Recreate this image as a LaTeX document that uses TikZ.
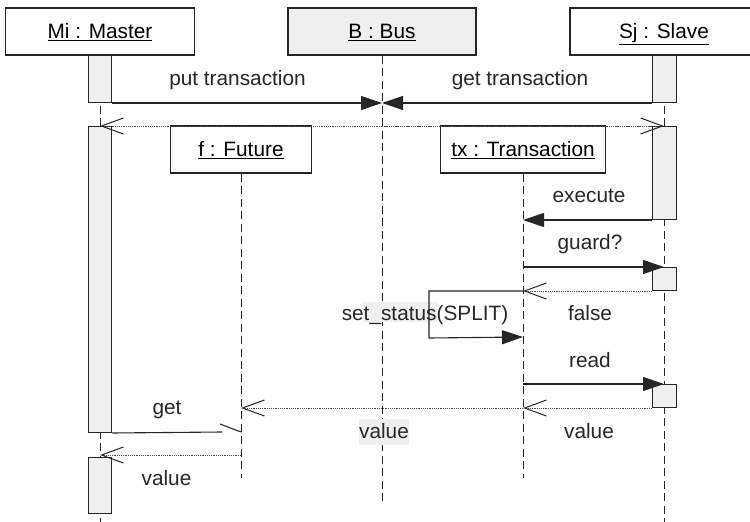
\documentclass[tikz,border=0pt]{standalone}
\usepackage{fontspec}
\setmainfont{Liberation Sans}
\usetikzlibrary{arrows.meta}

\definecolor{ink}{HTML}{262626}
\definecolor{actfill}{HTML}{EFEFEF}
\definecolor{dotgray}{HTML}{4A4A4A}

\tikzset{
  obj/.style={draw=ink, line width=1.4pt, fill=white, inner sep=0pt,
    minimum height=47pt, text height=14.5pt, text depth=1pt},
  act/.style={draw=ink, line width=1pt, fill=actfill, inner sep=0pt,
    minimum width=23.5pt, anchor=north},
  life/.style={draw=ink, line width=1pt, dash pattern=on 8pt off 4.5pt},
  call/.style={draw=ink, line width=1.1pt, -{Triangle[length=21pt,width=14pt]}},
  msg/.style={draw=ink, line width=1.1pt},
  reply/.style={draw=dotgray, line width=1pt, dash pattern=on 1.3pt off 0.9pt,
    -{Straight Barb[length=22pt,width=16pt,line width=1pt,color=ink]}},
  lbl/.style={inner sep=0pt, text=ink, text height=14.5pt, text depth=4pt},
  patch/.style={fill=actfill, inner sep=0pt},
}

\begin{document}
\begin{tikzpicture}[x=1pt, y=-1pt, font=\fontsize{20.8}{25}\selectfont]
\useasboundingbox (0,0) rectangle (750,522);
\clip (0,0) rectangle (750,522);

% objects
\node[obj, minimum width=189pt] (mi) at (100,31.5) {\underline{Mi : Master}};
\node[obj, minimum width=188pt, fill=actfill] (bus) at (382,31.5) {\underline{B : Bus}};
\node[obj, minimum width=188pt] (sj) at (664,31.5) {\underline{Sj : Slave}};

% lifeline ends
\coordinate (mi-end)  at (100,522);
\coordinate (bus-end) at (382,502);
\coordinate (sj-end)  at (664,522);
\coordinate (fut-end) at (241,478);
\coordinate (tx-end)  at (523,478);

% lifelines
\draw[life] (mi.south) -- (mi-end);
\draw[life] (bus.south) -- (bus-end);
\draw[life] (sj.south) -- (sj-end);

% objects created later
\node[obj, minimum width=141pt] (fut) at (241,149.5) {\underline{f : Future}};
\node[obj, minimum width=165pt] (tx) at (523,149.5) {\underline{tx : Transaction}};
\draw[life] (fut.south) -- (fut-end);
\draw[life] (tx.south) -- (tx-end);

% label backgrounds
\node[patch, minimum width=74pt, minimum height=20pt] (spatch) at (400,312) {};

% activations
\node[act, minimum height=47pt]  (a1) at (100,55) {};
\node[act, minimum height=306pt] (a2) at (100,126) {};
\node[act, minimum height=56pt]  (a3) at (100,457) {};
\node[act, minimum height=47pt]  (s1) at (664.5,55) {};
\node[act, minimum height=93pt]  (s2) at (664.5,126) {};
\node[act, minimum height=23pt]  (s3) at (664.5,267) {};
\node[act, minimum height=23pt]  (s4) at (664.5,384) {};

% helper points
\coordinate (selfret) at (523,337);
\coordinate (getend)  at (222,432);
\coordinate (gettip)  at (241,432);
\coordinate (getbarb) at (220,424);
\coordinate (futret)  at (241,455);

% transaction hand-over through the bus
\draw[call] (a1.south east) -- (a1.south east -| bus-end);
\draw[call] (s1.south west) -- (s1.south west -| bus-end);
\draw[reply] (bus-end |- a2.north) -- (a2.north);
\draw[reply] (bus-end |- s2.north) -- (sj-end |- s2.north);

% slave works on the transaction
\draw[call] (s2.south west) -- (s2.south west -| tx-end);
\draw[call] (tx-end |- s3.north) -- (sj-end |- s3.north);
\draw[reply] (s3.south west) -- (s3.south west -| tx-end);
\draw[call] (tx-end |- s3.south) -- ++(-94,0) -- ++(0,47) -- (selfret);
\draw[call] (tx-end |- s4.north) -- (sj-end |- s4.north);
\draw[reply] (s4.south west) -- (s4.south west -| tx-end);
\draw[reply] (tx-end |- s4.south) -- (fut-end |- s4.south);

% master asks the future for its value
\draw[msg] (a2.south east) -- (getend);
\draw[msg] (getbarb) -- (gettip);
\draw[reply] (futret) -- (futret -| mi-end);

% labels
\node[lbl] (lput)  at (237.5,80) {put transaction};
\node[lbl] (lgtr)  at (520,80) {get transaction};
\node[lbl] (lexec) at (589,197) {execute};
\node[lbl] (lgrd)  at (590,244) {guard?};
\node[lbl] (lfal)  at (590,315) {false};
\node[lbl] (lset)  at (425,315) {set\_status(SPLIT)};
\node[lbl] (lread) at (590,362) {read};
\node[lbl] (lval1) at (589,433) {value};
\node[lbl, patch, minimum width=50pt, text height=17pt, inner ysep=2.5pt] (lval2) at (384,431.5) {value};
\node[lbl] (lget)  at (167,409) {get};
\node[lbl] (lval3) at (166.5,480) {value};
\end{tikzpicture}
\end{document}
